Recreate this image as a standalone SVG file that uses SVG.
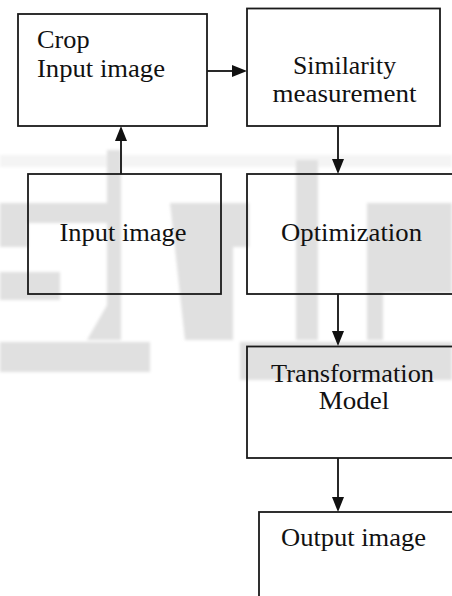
<svg xmlns="http://www.w3.org/2000/svg" width="452" height="596" viewBox="0 0 452 596">
  <defs>
    <filter id="soft" x="-5%" y="-5%" width="110%" height="110%">
      <feGaussianBlur stdDeviation="1.5"/>
    </filter>
    <marker id="arrow" markerUnits="userSpaceOnUse" markerWidth="15" markerHeight="12" refX="0" refY="6" orient="auto">
      <path d="M0,0 L15,6 L0,12 z" fill="#111"/>
    </marker>
    <style>
      .box { fill: none; stroke: #1a1a1a; stroke-width: 1.8; }
      .lbl { font-family: 'Liberation Serif', serif; font-size: 25px; fill: #111; }
      .mid { text-anchor: middle; }
      .conn { stroke: #111; stroke-width: 1.8; fill: none; marker-end: url(#arrow); }
      .wm { fill: #e0e0e0; }
    </style>
  </defs>
  <rect x="0" y="0" width="452" height="596" fill="#ffffff"/>

  <g id="watermark" filter="url(#soft)">
    <rect x="0" y="155" width="452" height="12" fill="#f4f4f4"/>
    <rect class="wm" x="107" y="150" width="14" height="190"/>
    <polygon class="wm" points="110,300 121,300 121,340 87,340"/>
    <rect class="wm" x="0" y="203" width="107" height="20"/>
    <rect class="wm" x="0" y="203" width="28" height="44"/>
    <rect class="wm" x="0" y="272" width="60" height="28"/>
    <polygon class="wm" points="170,203 233,203 233,340 185,340"/>
    <rect class="wm" x="221" y="203" width="28" height="44"/>
    <rect class="wm" x="296" y="160" width="22" height="180"/>
    <rect class="wm" x="367" y="203" width="85" height="90"/>
    <rect class="wm" x="367" y="293" width="16" height="47"/>
    <rect class="wm" x="0" y="342" width="150" height="30"/>
    <rect class="wm" x="240" y="342" width="212" height="38"/>
  </g>

  <g id="connectors">
    <line class="conn" x1="121" y1="174" x2="121" y2="141"/>
    <line class="conn" x1="207" y1="71" x2="232" y2="71"/>
    <line class="conn" x1="338" y1="126" x2="338" y2="159"/>
    <line class="conn" x1="338" y1="294" x2="338" y2="331"/>
    <line class="conn" x1="338" y1="458" x2="338" y2="497"/>
  </g>

  <g id="crop">
    <rect class="box" x="18" y="14" width="189" height="112"/>
    <text class="lbl" x="37" y="48" textLength="52.6" lengthAdjust="spacingAndGlyphs">Crop</text>
    <text class="lbl" x="37" y="77" textLength="128" lengthAdjust="spacingAndGlyphs">Input image</text>
  </g>

  <g id="similarity">
    <rect class="box" x="247" y="8.5" width="193" height="117.5"/>
    <text class="lbl mid" x="344.5" y="73.5" textLength="103" lengthAdjust="spacingAndGlyphs">Similarity</text>
    <text class="lbl mid" x="344.5" y="101.7" textLength="144" lengthAdjust="spacingAndGlyphs">measurement</text>
  </g>

  <g id="input">
    <rect class="box" x="28" y="174" width="193" height="120"/>
    <text class="lbl mid" x="123" y="241" textLength="127" lengthAdjust="spacingAndGlyphs">Input image</text>
  </g>

  <g id="optimization">
    <rect class="box" x="247" y="174" width="215" height="120"/>
    <text class="lbl mid" x="351.5" y="241" textLength="141" lengthAdjust="spacingAndGlyphs">Optimization</text>
  </g>

  <g id="transformation">
    <rect class="box" x="247" y="346.5" width="215" height="111.5"/>
    <text class="lbl mid" x="352.5" y="381.7" textLength="163" lengthAdjust="spacingAndGlyphs">Transformation</text>
    <text class="lbl mid" x="354" y="409" textLength="70.6" lengthAdjust="spacingAndGlyphs">Model</text>
  </g>

  <g id="output">
    <rect class="box" x="259" y="512" width="215" height="100"/>
    <text class="lbl mid" x="353.5" y="545.5" textLength="145" lengthAdjust="spacingAndGlyphs">Output image</text>
  </g>
</svg>
